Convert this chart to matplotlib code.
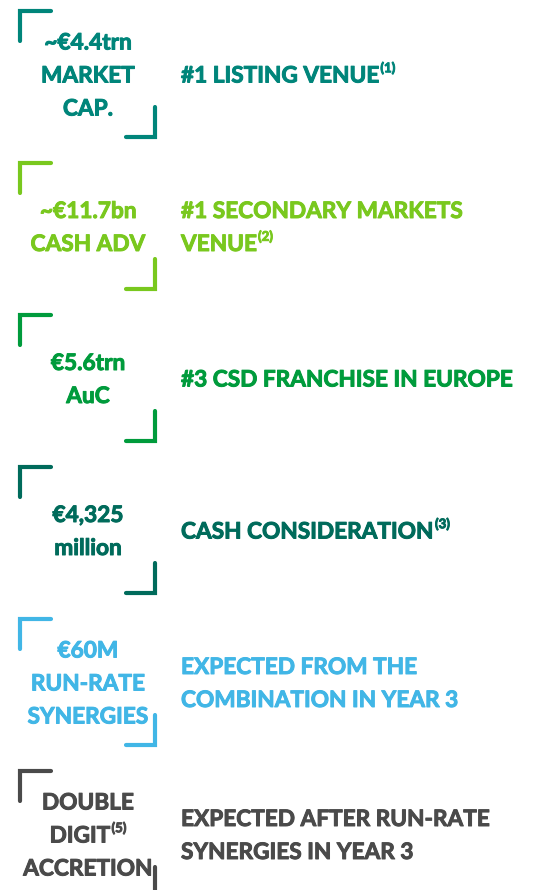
import matplotlib
matplotlib.use("Agg")
import matplotlib.pyplot as plt
import matplotlib.patheffects as pe

# key figures, one block each
values = [["~€4.4trn", "MARKET", "CAP."],
          ["~€11.7bn", "CASH ADV"],
          ["€5.6trn", "AuC"],
          ["€4,325", "million"],
          ["€60M", "RUN-RATE", "SYNERGIES"],
          ["DOUBLE", "DIGIT", "ACCRETION"]]
value_sups = [[None, None, None], [None, None], [None, None], [None, None],
              [None, None, None], [None, "(5)", None]]
descriptions = [["#1 LISTING VENUE"],
                ["#1 SECONDARY MARKETS", "VENUE"],
                ["#3 CSD FRANCHISE IN EUROPE"],
                ["CASH CONSIDERATION"],
                ["EXPECTED FROM THE", "COMBINATION IN YEAR 3"],
                ["EXPECTED AFTER RUN-RATE", "SYNERGIES IN YEAR 3"]]
desc_sups = [["(1)"], [None, "(2)"], [None], ["(3)"], [None, None], [None, None]]
colors = ["#00857A", "#79C81E", "#009B3C", "#006B5B", "#41B6E6", "#4A4A4A"]

plt.rcParams['font.family'] = ['Lato', 'DejaVu Sans']
FS = 16.3
SUP_FS = 9.5
WEIGHT = 'bold'

fig = plt.figure(figsize=(5.43, 8.90), dpi=100)
ax = fig.add_axes([0, 0, 1, 1])
ax.set_xlim(0, 543)
ax.set_ylim(890, 0)
ax.axis('off')
renderer = fig.canvas.get_renderer()


def width_of(t):
    bb = t.get_window_extent(renderer=renderer)
    return bb.width  # 1px == 1 data unit here


def put_line(x, y, text, sup, color, center):
    fat = [pe.withStroke(linewidth=0.7, foreground=color)]
    t = ax.text(x, y, text, color=color, fontsize=FS, fontweight=WEIGHT,
                ha='left', va='center', path_effects=fat)
    w = width_of(t)
    ws = 0
    s = None
    if sup:
        s = ax.text(x, y - 8, sup, color=color, fontsize=SUP_FS, fontweight=WEIGHT,
                    ha='left', va='center', path_effects=fat)
        ws = width_of(s) + 1
    x0 = x - (w + ws) / 2 if center else x
    t.set_x(x0)
    if s is not None:
        s.set_x(x0 + w + 1)


for i in range(len(values)):
    top = 11 + 152 * i
    c = colors[i]
    # corner brackets
    ax.plot([20, 20, 51], [top + 30, top, top], color=c, lw=3, solid_capstyle='round',
            solid_joinstyle='miter', clip_on=False)
    ax.plot([126, 155, 155], [top + 126, top + 126, top + 96], color=c, lw=3,
            solid_capstyle='round', solid_joinstyle='miter', clip_on=False)
    mid = top + 65
    n = len(values[i])
    for k, line in enumerate(values[i]):
        y = mid + (k - (n - 1) / 2) * 33
        put_line(88, y, line, value_sups[i][k], c, True)
    n = len(descriptions[i])
    for k, line in enumerate(descriptions[i]):
        y = mid + (k - (n - 1) / 2) * 33
        put_line(181, y, line, desc_sups[i][k], c, False)

fig.savefig("out.png", dpi=100)
